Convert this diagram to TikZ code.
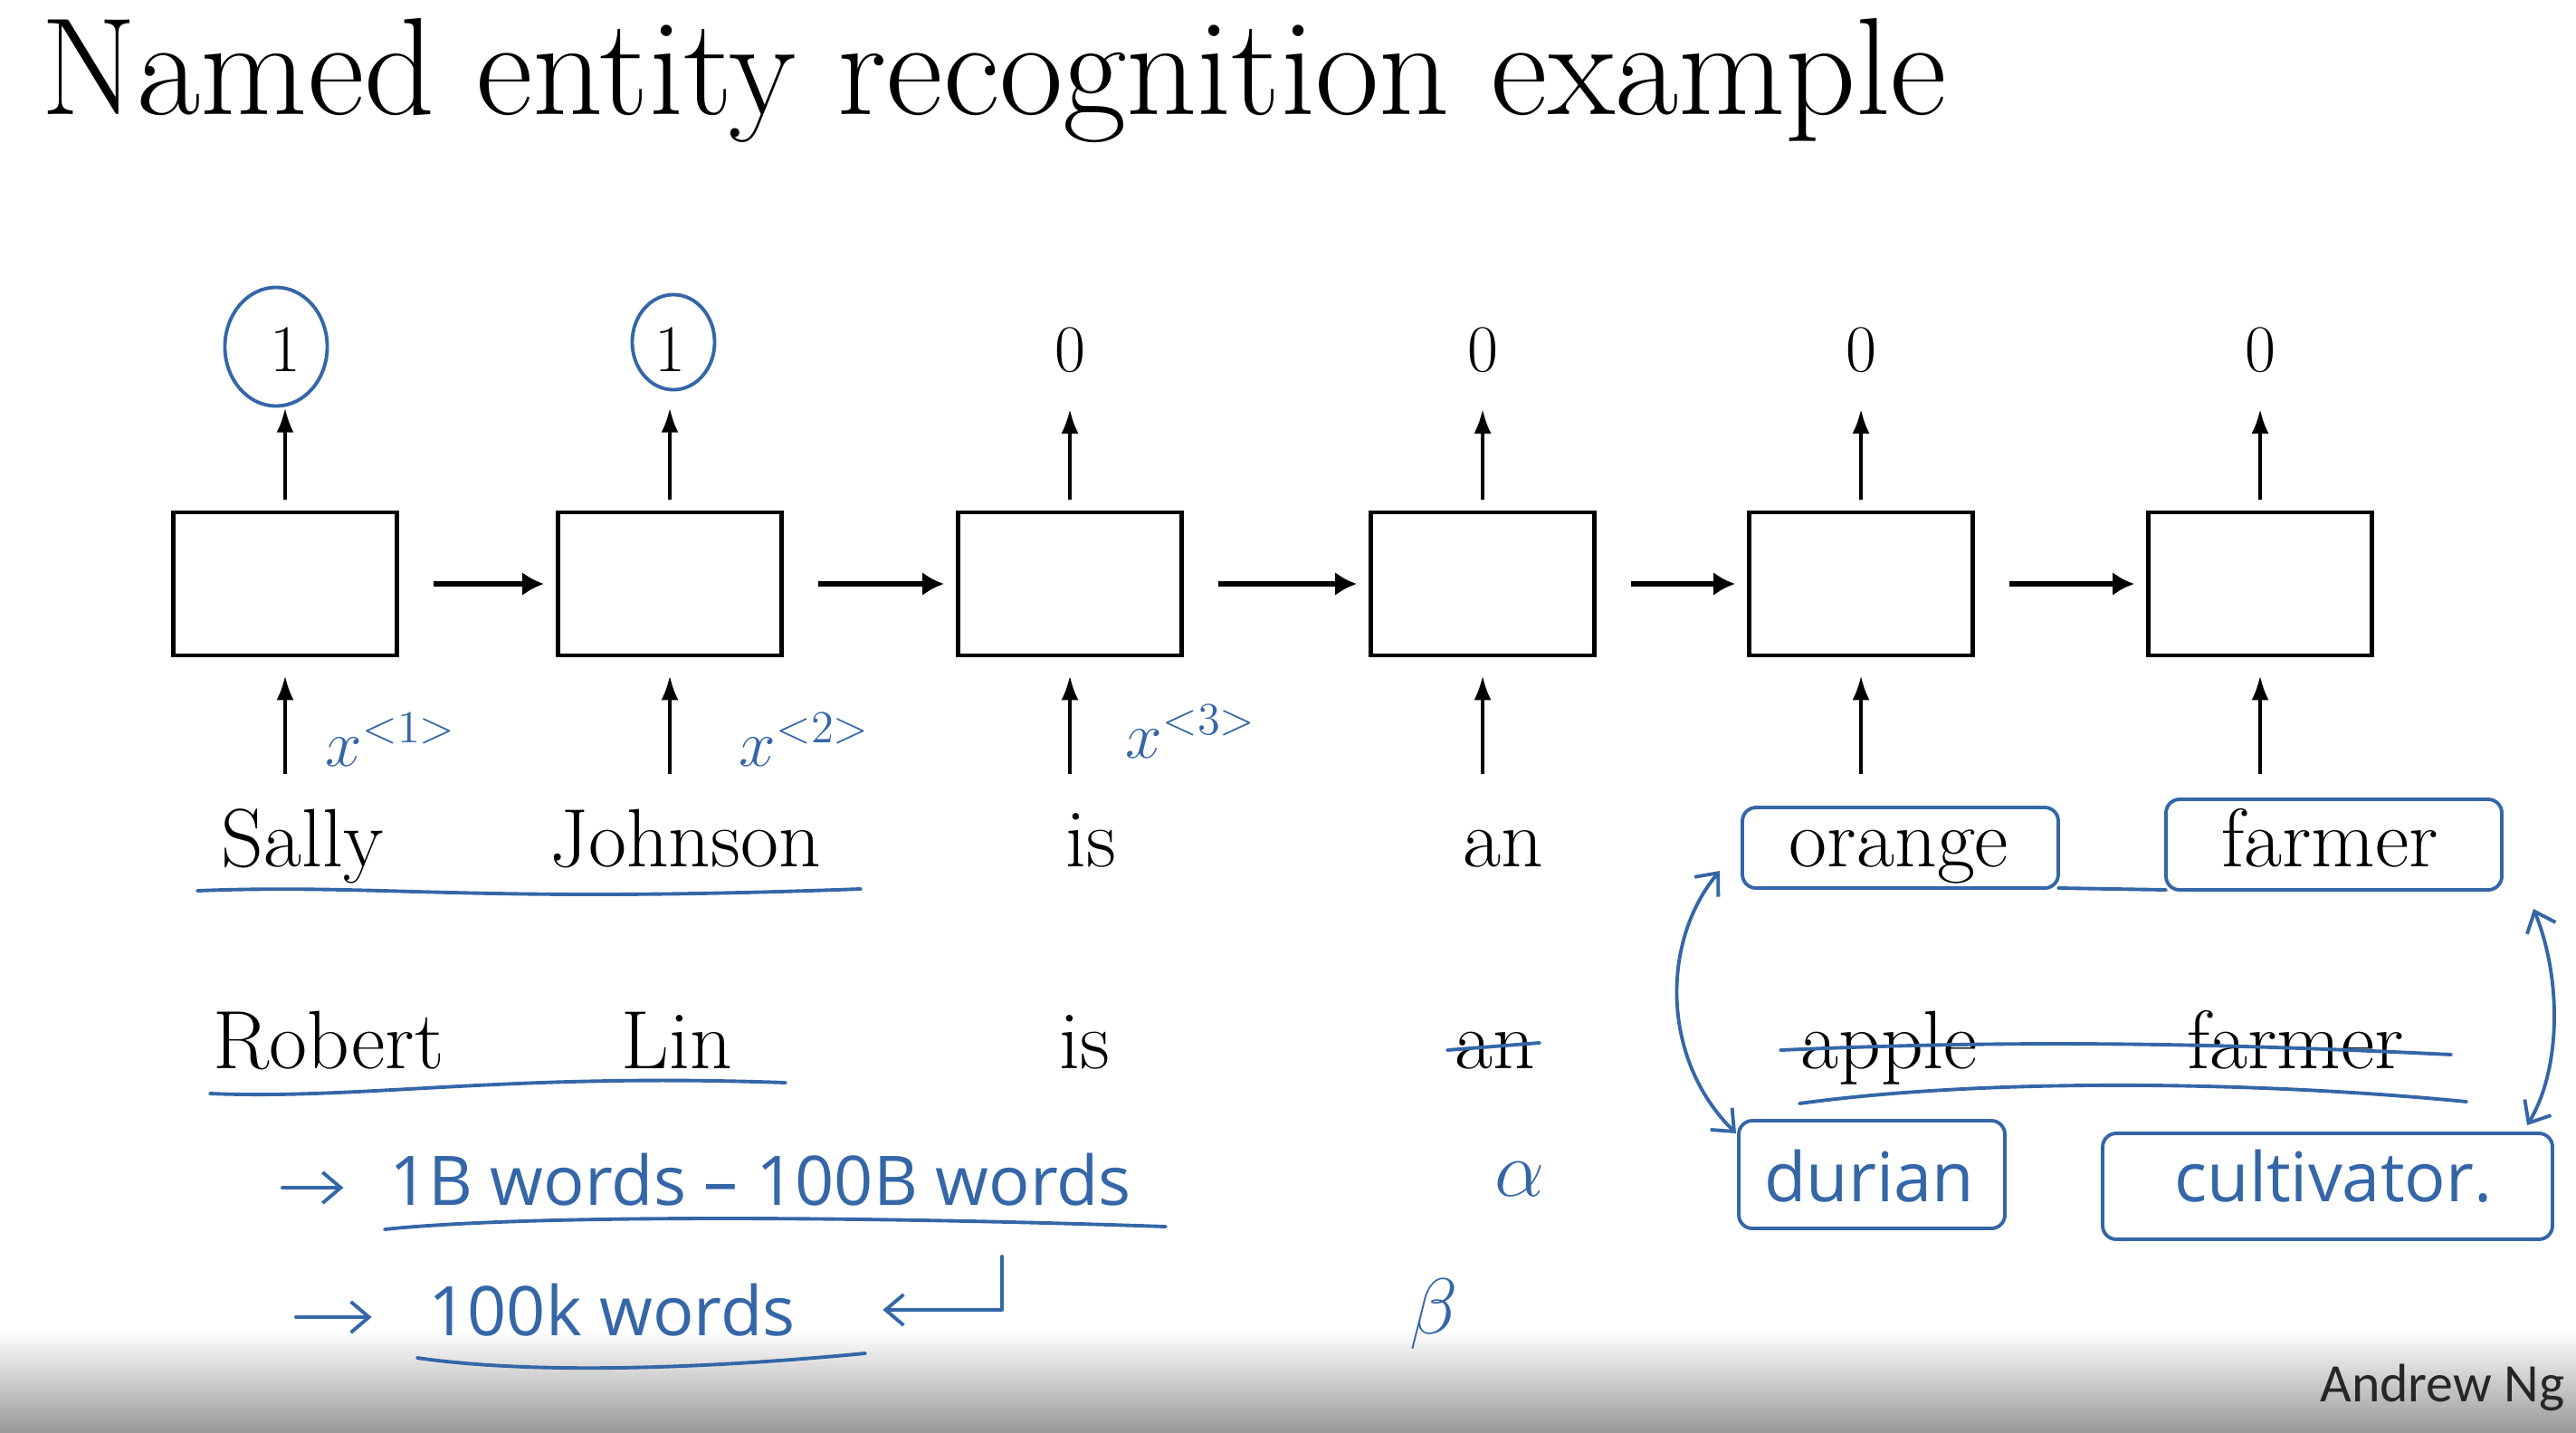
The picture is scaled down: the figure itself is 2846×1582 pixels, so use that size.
\documentclass[tikz,border=0pt]{standalone}
\usepackage{fontspec}
\newfontfamily\handfont{Open Sans}
\newfontfamily\footfont{Carlito}
\usetikzlibrary{positioning,arrows.meta,shapes.geometric}
\definecolor{inkblue}{RGB}{52,102,168}

\begin{document}
\begin{tikzpicture}[x=0.01cm,y=-0.01cm,
    cell/.style={rectangle,draw,line width=1.3pt,minimum width=2.47cm,minimum height=1.58cm},
    word/.style={anchor=base,inner sep=0pt,font=\fontsize{26}{30}\selectfont},
    digit/.style={anchor=base,inner sep=0pt,font=\fontsize{21}{25}\selectfont},
    uparrow/.style={line width=1.1pt,-{Latex[length=0.27cm,width=0.19cm]}},
    rightarrow/.style={line width=1.6pt,-{Latex[length=0.24cm,width=0.26cm]}},
    ink/.style={draw=inkblue,line width=1.1pt,line cap=round,line join=round},
    inkarrow/.style={ink,-{Straight Barb[length=0.2cm,width=0.34cm]}},
    inkboth/.style={ink,{Straight Barb[length=0.2cm,width=0.34cm]}-{Straight Barb[length=0.2cm,width=0.34cm]}},
    inktext/.style={text=inkblue,inner sep=0pt,font=\handfont\fontsize{21.5}{25}\selectfont}]

    \fill[white] (0,0) rectangle (2846,1582);
    \shade[top color=white,bottom color=black!40] (0,1470) rectangle (2846,1582);

    \node(title) [anchor=base west,inner sep=0pt,font=\fontsize{43.5}{50}\selectfont] at (45,127) {
      Named entity recognition example
    };

    % the six cells and what goes in and out of them
    \foreach \x/\y [count=\i] in {315/1,740/1,1182/0,1638/0,2056/0,2497/0} {
      \node(cell\i) [cell] at (\x,645) {};
      \node(out\i) [digit] at (\x,410) {\y};
      \draw[uparrow,shorten >=0.4cm] ([yshift=0.12cm]cell\i.north) -- (out\i);
      \coordinate (in\i) at ([yshift=-1.29cm]cell\i.south);
      \draw[uparrow,shorten >=0.2cm] (in\i) -- (cell\i.south);
    }

    \foreach \i [count=\j from 2] in {1,...,5}
      \draw[rightarrow] ([xshift=0.38cm]cell\i.east) -- ([xshift=-0.13cm]cell\j.west);

    \node(sally) [word] at (334,957) {Sally};
    \node(johnson) [word] at (757,957) {Johnson};
    \node(isa) [word] at (1205,957) {is};
    \node(ana) [word] at (1661,957) {an};
    \node(orange) [word] at (2098,957) {orange};
    \node(farmera) [word] at (2574,957) {farmer};

    \node(robert) [word] at (363,1180) {Robert};
    \node(lin) [word] at (748,1180) {Lin};
    \node(isb) [word] at (1198,1180) {is};
    \node(anb) [word] at (1652,1180) {an};
    \node(apple) [word] at (2087,1180) {apple};
    \node(farmerb) [word] at (2536,1180) {farmer};

    % handwritten notes
    \node(circ1) [ellipse,ink,minimum width=1.13cm,minimum height=1.31cm] at (305,383) {};
    \node(circ2) [ellipse,ink,minimum width=0.91cm,minimum height=1.05cm] at (744,378) {};

    \node(xa) [text=inkblue] at (432,817) {\fontsize{22}{26}\selectfont$x^{<1>}$};
    \node(xb) [text=inkblue] at (889,817) {\fontsize{22}{26}\selectfont$x^{<2>}$};
    \node(xc) [text=inkblue] at (1316,808) {\fontsize{22}{26}\selectfont$x^{<3>}$};

    \draw[ink] (218,984) .. controls (420,976) and (520,998) .. (951,982);
    \draw[ink] (232,1208) .. controls (400,1215) and (560,1185) .. (868,1196);
    \draw[ink] (1599,1160) -- (1701,1152);
    \draw[ink] (1967,1160) .. controls (2200,1150) and (2400,1150) .. (2708,1165);
    \draw[ink] (1988,1219) .. controls (2200,1190) and (2500,1195) .. (2725,1217);

    \node(corpus) [inktext] at (840,1303) {1B words – 100B words};
    \node(vocab) [inktext] at (676,1447) {100k words};
    \coordinate (lead1) at (312,1312);
    \coordinate (lead2) at (327,1455);
    \draw[inkarrow,shorten >=0.5cm] (lead1) -- (lead1 -| corpus.west);
    \draw[inkarrow,shorten >=0.62cm] (lead2) -- (lead2 -| vocab.west);
    \coordinate (ret) at (1107,1388);
    \draw[inkarrow,shorten >=0.96cm] (ret) |- (vocab.east);
    \draw[ink] (425,1358) .. controls (600,1340) and (1000,1345) .. (1288,1355);
    \draw[ink] (461,1500) .. controls (600,1520) and (800,1510) .. (956,1495);

    \node(alpha) [text=inkblue] at (1679,1303) {\fontsize{26}{30}\selectfont$\alpha$};
    \node(beta) [text=inkblue] at (1584,1452) {\fontsize{26}{30}\selectfont$\beta$};

    \node(durian) [inktext] at (2065,1299) {durian};
    \node(cultivator) [inktext] at (2578,1299) {cultivator.};

    \draw[ink,rounded corners=0.15cm] (1925,892) rectangle (2274,981);
    \draw[ink,rounded corners=0.15cm] (2393,883) rectangle (2764,983);
    \draw[ink] (2274,981) -- (2393,983);
    \draw[ink,rounded corners=0.15cm] (1921,1238) rectangle (2215,1357);
    \draw[ink,rounded corners=0.15cm] (2323,1252) rectangle (2820,1369);

    \draw[inkboth] (1900,962) .. controls (1835,1040) and (1835,1170) .. (1918,1252);
    \draw[inkboth] (2799,1004) .. controls (2830,1080) and (2830,1180) .. (2792,1243);

    \node(author) [anchor=base east,inner sep=0pt,text=black!85,font=\footfont\fontsize{17}{20}\selectfont] at (2834,1548) {Andrew Ng};

  \end{tikzpicture}
\end{document}
